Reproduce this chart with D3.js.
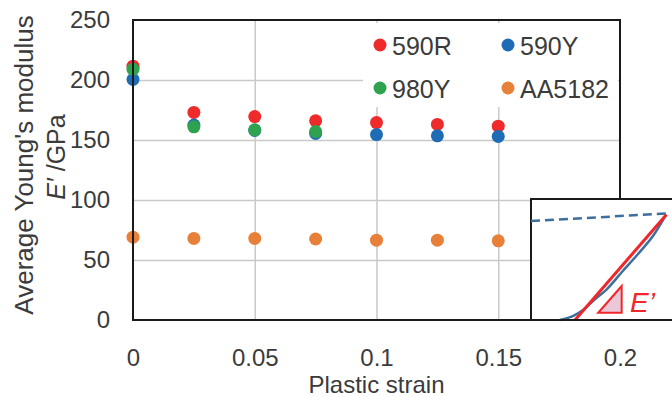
<!DOCTYPE html>
<html>
<head>
<meta charset="utf-8">
<script src="https://cdn.jsdelivr.net/npm/d3@7"></script>
<style>
  html, body { margin: 0; padding: 0; background: #fff; }
  svg { display: block; font-family: "Liberation Sans", Arial, sans-serif; }
</style>
</head>
<body>
<svg id="chart" width="672" height="397"></svg>
<script>
// Plastic strain levels at which the modulus was measured
const strain = [0, 0.025, 0.05, 0.075, 0.1, 0.125, 0.15];

// Average Young's modulus E' (GPa) per material
const e590R   = [211.5, 173, 169.5, 166, 164.5, 163, 161.5];
const e590Y   = [200.5, 162.5, 158, 155.5, 154.5, 153.5, 153];
const e980Y   = [209, 161, 158.5, 157];
const eAA5182 = [69, 68, 68, 67.5, 66.5, 66.5, 66];

const seriesNames = ["590R", "590Y", "980Y", "AA5182"];
const seriesValues = [e590R, e590Y, e980Y, eAA5182];
const seriesColors = ["#ee2a2b", "#1f6cb6", "#2ea24e", "#e98039"];

const xTicks = [0, 0.05, 0.1, 0.15, 0.2];
const yTicks = [0, 50, 100, 150, 200, 250];

// Schematic of the unloading/reloading curve (normalised inset units)
const insetDashed = [[0, 0.818], [0.957, 0.880]];
const insetSecant = [[0.312, 0.0], [0.961, 0.872]];
const insetCurve  = [[0.206, 0], [0.30, 0.035], [0.369, 0.083], [0.447, 0.165], [0.539, 0.256],
                     [0.645, 0.397], [0.759, 0.545], [0.865, 0.694], [0.957, 0.868]];
const insetTriangle = [[0.477, 0.06], [0.643, 0.281], [0.643, 0.06]];

const svg = d3.select("#chart");
const plotLeft = 133, plotRight = 620, plotTop = 20, plotBottom = 320;

const x = d3.scaleLinear().domain([0, 0.2]).range([plotLeft, plotRight]);
const y = d3.scaleLinear().domain([0, 250]).range([plotBottom, plotTop]);

const textColor = "#3b3b3b";
const gridColor = "#c9c9c9";
const fontFamily = "Liberation Sans, Arial, sans-serif";

// grid lines
svg.append("g")
  .attr("transform", `translate(0,${plotBottom})`)
  .call(d3.axisBottom(x).tickValues(xTicks.slice(1, -1)).tickSize(-(plotBottom - plotTop)).tickFormat(""))
  .call(g => g.select(".domain").remove())
  .call(g => g.selectAll("line").attr("stroke", gridColor).attr("stroke-width", 1.5));
svg.append("g")
  .attr("transform", `translate(${plotLeft},0)`)
  .call(d3.axisLeft(y).tickValues(yTicks.slice(1, -1)).tickSize(-(plotRight - plotLeft)).tickFormat(""))
  .call(g => g.select(".domain").remove())
  .call(g => g.selectAll("line").attr("stroke", gridColor).attr("stroke-width", 1.5));

// tick labels
svg.append("g")
  .attr("transform", `translate(${plotLeft},0)`)
  .call(d3.axisLeft(y).tickValues(yTicks).tickSize(0).tickPadding(23))
  .call(g => g.select(".domain").remove())
  .call(g => g.selectAll("text").attr("font-size", 24).attr("fill", textColor)
    .attr("font-family", fontFamily));
svg.append("g")
  .attr("transform", `translate(0,${plotBottom})`)
  .call(d3.axisBottom(x).tickValues(xTicks).tickSize(0).tickPadding(29).tickFormat(d3.format("~g")))
  .call(g => g.select(".domain").remove())
  .call(g => g.selectAll("text").attr("font-size", 24).attr("fill", textColor)
    .attr("font-family", fontFamily));

// plot frame
svg.append("rect")
  .attr("x", plotLeft).attr("y", plotTop)
  .attr("width", plotRight - plotLeft).attr("height", plotBottom - plotTop)
  .attr("fill", "none").attr("stroke", "#1a1a1a").attr("stroke-width", 2);

// legend box
const legend = svg.append("g");
legend.append("rect")
  .attr("x", 363).attr("y", 23).attr("width", 255).attr("height", 84)
  .attr("fill", "#fff");
const legendPos = [[380, 45], [508, 45], [380, 88], [508, 88]];
seriesNames.forEach((name, i) => {
  const [lx, ly] = legendPos[i];
  legend.append("circle").attr("cx", lx).attr("cy", ly).attr("r", 6.5).attr("fill", seriesColors[i]);
  legend.append("text").attr("x", lx + 12).attr("y", ly + 9.5)
    .attr("font-size", 25).attr("fill", textColor).text(name);
});

// data points
seriesValues.forEach((vals, i) => {
  svg.append("g").selectAll("circle")
    .data(vals)
    .join("circle")
    .attr("cx", (d, j) => x(strain[j]))
    .attr("cy", d => y(d))
    .attr("r", 6.5)
    .attr("fill", seriesColors[i]);
});

// axis titles
svg.append("text")
  .attr("transform", "translate(33,165) rotate(-90)")
  .attr("text-anchor", "middle").attr("font-size", 26).attr("fill", textColor)
  .text("Average Young's modulus");
const yt2 = svg.append("text")
  .attr("transform", "translate(65,157) rotate(-90)")
  .attr("text-anchor", "middle").attr("font-size", 25).attr("fill", textColor);
yt2.append("tspan").attr("font-style", "italic").text("E\u2032");
yt2.append("tspan").text(" /GPa");

svg.append("text")
  .attr("x", (x(0) + x(0.2)) / 2).attr("y", 393)
  .attr("text-anchor", "middle").attr("font-size", 24).attr("fill", textColor)
  .text("Plastic strain");

// inset schematic
const insetLeft = 531, insetTop = 199, insetRight = 672;
const ix = d3.scaleLinear().domain([0, 1]).range([insetLeft, insetRight]);
const iy = d3.scaleLinear().domain([0, 1]).range([plotBottom, insetTop]);
const inset = svg.append("g");
inset.append("rect")
  .attr("x", insetLeft).attr("y", insetTop)
  .attr("width", 160).attr("height", plotBottom - insetTop)
  .attr("fill", "#fff").attr("stroke", "#1a1a1a").attr("stroke-width", 2);

const straight = d3.line().x(d => ix(d[0])).y(d => iy(d[1]));
const smooth = d3.line().x(d => ix(d[0])).y(d => iy(d[1])).curve(d3.curveCatmullRom);
inset.append("path").attr("d", straight(insetDashed))
  .attr("fill", "none").attr("stroke", "#3d6f9e").attr("stroke-width", 2.5)
  .attr("stroke-dasharray", "9,5");
inset.append("path").attr("d", smooth(insetCurve))
  .attr("fill", "none").attr("stroke", "#3d6f9e").attr("stroke-width", 2.5);
inset.append("path").attr("d", straight(insetSecant))
  .attr("fill", "none").attr("stroke", "#f0262a").attr("stroke-width", 3);
inset.append("path").attr("d", straight(insetTriangle) + "Z")
  .attr("fill", "#ebc8d8").attr("stroke", "#f0262a").attr("stroke-width", 2);
inset.append("text")
  .attr("x", ix(0.702)).attr("y", iy(0.069))
  .attr("font-size", 28).attr("font-style", "italic").attr("fill", "#f0262a")
  .text("E\u2019");

// axis lines drawn over the frame and inset edge
svg.append("line")
  .attr("x1", plotLeft).attr("x2", insetRight).attr("y1", plotBottom).attr("y2", plotBottom)
  .attr("stroke", "#1a1a1a").attr("stroke-width", 2);
svg.append("line")
  .attr("x1", plotLeft).attr("x2", plotLeft).attr("y1", plotTop).attr("y2", plotBottom)
  .attr("stroke", "#1a1a1a").attr("stroke-width", 2);
</script>
</body>
</html>
